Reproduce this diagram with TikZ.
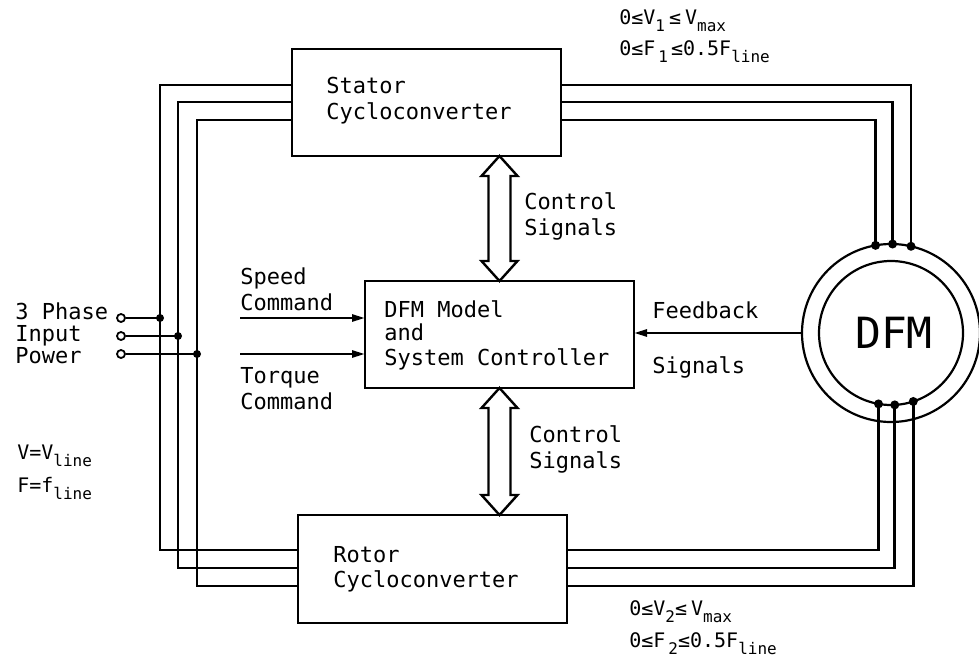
\documentclass[tikz,border=0pt]{standalone}
\usepackage{fontspec}
\setmainfont{DejaVu Sans Mono}
\usetikzlibrary{calc,arrows.meta}
\newcommand\lowsub[1]{\raisebox{-7pt}{\fontsize{16}{16}\selectfont #1}}
\begin{document}
\begin{tikzpicture}[x=1pt,y=-1pt,line width=2.6pt,
  box/.style={draw,rectangle,minimum width=269pt,minimum height=107pt,outer sep=0pt,inner sep=0pt},
  lbl/.style={anchor=base west,inner sep=0pt,font=\fontsize{22}{26}\selectfont},
  lblsm/.style={anchor=base west,inner sep=0pt,font=\fontsize{20}{24}\selectfont},
  term/.style={draw,circle,fill=white,minimum size=8pt,inner sep=0pt,line width=1.8pt},
  ring/.style={draw,circle,outer sep=0pt,inner sep=0pt,line width=2.2pt},
  arr/.style={-{Triangle[length=13pt,width=7pt]}},
  dbl/.style={line width=2.4pt,line join=miter},
  dot/.style={fill=black}]
\useasboundingbox (0,0) rectangle (979,663);

% blocks
\node[box] (stator) at (426.5,102.5) {};
\node[box] (ctrl) at (499.5,334.5) {};
\node[box,minimum height=108pt] (rotor) at (432.5,569) {};

% machine
\node[ring,minimum size=178pt] (dfmout) at (891,333) {};
\node[ring,minimum size=144pt] (dfmin) at (891,333) {};
\node[inner sep=0pt,font=\fontsize{43}{43}\selectfont] (dfmlbl) at (894,333) {DFM};

% block texts
\node[lbl] (tst1) at (325,94) {Stator};
\node[lbl] (tst2) at (325,120) {Cycloconverter};
\node[lbl] (tro1) at (332,562) {Rotor};
\node[lbl] (tro2) at (332,587) {Cycloconverter};
\node[lbl] (tc1) at (383,317) {DFM Model};
\node[lbl] (tc2) at (383,340) {and};
\node[lbl] (tc3) at (383,365) {System Controller};

% input terminals and junctions
\node[term] (t1) at (121,318) {};
\node[term] (t2) at (121,336) {};
\node[term] (t3) at (121,354) {};
\coordinate (j1) at (160,318);
\coordinate (j2) at (178,336);
\coordinate (j3) at (197,354);

% left buses
\draw (stator.west |- 0,85) -| (j1) |- (rotor.west |- 0,550);
\draw (stator.west |- 0,102) -| (j2) |- (rotor.west |- 0,568);
\draw (stator.west |- 0,120) -| (j3) |- (rotor.west |- 0,586);
\draw (t1) -- (j1);
\draw (t2) -- (j2);
\draw (t3) -- (j3);
\fill[dot] (j1) circle (4pt);
\fill[dot] (j2) circle (4pt);
\fill[dot] (j3) circle (4pt);

% stator to DFM
\draw (stator.east |- 0,85) -| (dfmout.77);
\draw (stator.east |- 0,102) -| (dfmout.89);
\draw (stator.east |- 0,120) -| (dfmout.100);
\fill[dot] (dfmout.77) circle (4.5pt);
\fill[dot] (dfmout.89) circle (4.5pt);
\fill[dot] (dfmout.100) circle (4.5pt);

% rotor to DFM
\draw (rotor.east |- 0,550) -| (dfmin.260);
\draw (rotor.east |- 0,568) -| (dfmin.273);
\draw (rotor.east |- 0,586) -| (dfmin.288);
\fill[dot] (dfmin.260) circle (4.5pt);
\fill[dot] (dfmin.273) circle (4.5pt);
\fill[dot] (dfmin.288) circle (4.5pt);

% commands and feedback
\coordinate (sp) at (240,318);
\coordinate (tq) at (240,354);
\draw[arr] (sp) -- (sp -| ctrl.west);
\draw[arr] (tq) -- (tq -| ctrl.west);
\draw[arr] (dfmout.west) -- (dfmout.west -| ctrl.east);

% double arrows (control signals)
\coordinate (a1) at (ctrl.north |- stator.south);
\draw[dbl] (a1) -- ++(18,20) -- ++(-7,0) -- ($(ctrl.north)+(11,-20)$) -- ++(7,0)
  -- (ctrl.north) -- ++(-18,-20) -- ++(7,0) -- ($(a1)+(-11,20)$) -- ++(-7,0) -- cycle;
\coordinate (a3) at (ctrl.south |- rotor.north);
\draw[dbl] (ctrl.south) -- ++(18,20) -- ++(-7,0) -- ($(a3)+(11,-20)$) -- ++(7,0)
  -- (a3) -- ++(-18,-20) -- ++(7,0) -- ($(ctrl.south)+(-11,20)$) -- ++(-7,0) -- cycle;

% labels
\node[lbl] (ls1) at (239,284) {Speed};
\node[lbl] (ls2) at (239,310) {Command};
\node[lbl] (lt1) at (239,383) {Torque};
\node[lbl] (lt2) at (239,409) {Command};
\node[lbl] (li1) at (14,319) {3 Phase};
\node[lbl] (li2) at (14,341) {Input};
\node[lbl] (li3) at (14,363) {Power};
\node[lbl] (lcs1) at (523,209) {Control};
\node[lbl] (lcs2) at (523,235) {Signals};
\node[lbl] (lcs3) at (528,442) {Control};
\node[lbl] (lcs4) at (528,468) {Signals};
\node[lbl] (lfb1) at (651,318) {Feedback};
\node[lbl] (lfb2) at (651,373) {Signals};
\node[lblsm] (lv) at (16,459) {V=V\lowsub{line}};
\node[lblsm] (lf) at (16,492) {F=f\lowsub{line}};
\node[lblsm] (lv1) at (618,25) {0≤V\lowsub{1}\hspace{4pt}≤\hspace{4pt}V\lowsub{max}};
\node[lblsm] (lf1) at (618,56) {0≤F\hspace{3pt}\lowsub{1}\hspace{3pt}≤0.5F\lowsub{line}};
\node[lblsm] (lv2) at (628,615) {0≤V\lowsub{2}≤\hspace{4pt}V\lowsub{max}};
\node[lblsm] (lf2) at (628,647) {0≤F\hspace{3pt}\lowsub{2}≤0.5F\lowsub{line}};
\end{tikzpicture}
\end{document}
